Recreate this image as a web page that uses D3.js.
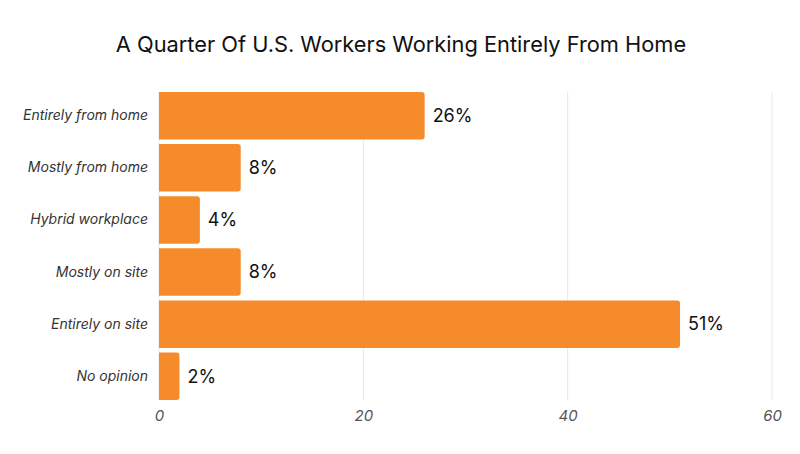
<!DOCTYPE html>
<html>
<head>
<meta charset="utf-8">
<script src="https://cdn.jsdelivr.net/npm/d3@7"></script>
<style>
  body { margin: 0; background: #fff; }
  svg { font-family: Inter, "Noto Sans", sans-serif; }
</style>
</head>
<body>
<div id="chart"></div>
<script>
var categories = ["Entirely from home", "Mostly from home", "Hybrid workplace", "Mostly on site", "Entirely on site", "No opinion"];
var values = [26, 8, 4, 8, 51, 2];
var xTicks = [0, 20, 40, 60];

function init() {
    var w = 800;
    var h = 454;
    var margin = {top: 92, right: 28, bottom: 54, left: 159};

    var svg = d3.select("#chart")
                .append("svg")
                .attr("width", w)
                .attr("height", h);

    svg.append("text")
        .attr("x", 401)
        .attr("y", 52)
        .attr("text-anchor", "middle")
        .attr("font-size", 21.8)
        .attr("fill", "#111")
        .text("A Quarter Of U.S. Workers Working Entirely From Home");

    var x = d3.scaleLinear()
              .domain([0, 60])
              .range([margin.left, w - margin.right]);

    var y = d3.scaleBand()
              .domain(categories)
              .range([margin.top, h - margin.bottom])
              .paddingInner(0.09)
              .paddingOuter(0.0);

    // grid
    svg.append("g")
        .selectAll("line")
        .data(xTicks)
        .enter()
        .append("line")
        .attr("x1", function(d) { return x(d); })
        .attr("x2", function(d) { return x(d); })
        .attr("y1", margin.top)
        .attr("y2", h - margin.bottom)
        .attr("stroke", "#e6e6e6")
        .attr("stroke-width", 1);

    // x axis labels
    var xAxis = d3.axisBottom(x).tickValues(xTicks).tickSize(0).tickPadding(10);
    var gx = svg.append("g")
        .attr("transform", "translate(0," + (h - margin.bottom) + ")")
        .call(xAxis);
    gx.select(".domain").remove();
    gx.selectAll("text")
        .attr("font-family", "Inter, 'Noto Sans', sans-serif")
        .attr("font-size", 15)
        .attr("font-style", "italic")
        .attr("fill", "#555");

    // y axis labels
    var yAxis = d3.axisLeft(y).tickSize(0).tickPadding(11);
    var gy = svg.append("g")
        .attr("transform", "translate(" + margin.left + ",0)")
        .call(yAxis);
    gy.select(".domain").remove();
    gy.selectAll("text")
        .attr("font-family", "Inter, 'Noto Sans', sans-serif")
        .attr("font-size", 14)
        .attr("font-style", "italic")
        .attr("fill", "#333");

    var r = 3;
    var bars = svg.selectAll("g.bar")
        .data(values)
        .enter()
        .append("g")
        .attr("class", "bar");

    bars.append("path")
        .attr("fill", "#f68b2b")
        .attr("d", function(d, i) {
            var x0 = x(0), x1 = x(d), y0 = y(categories[i]), bh = y.bandwidth();
            return "M" + x0 + "," + y0 +
                   "H" + (x1 - r) +
                   "Q" + x1 + "," + y0 + " " + x1 + "," + (y0 + r) +
                   "V" + (y0 + bh - r) +
                   "Q" + x1 + "," + (y0 + bh) + " " + (x1 - r) + "," + (y0 + bh) +
                   "H" + x0 + "Z";
        });

    bars.append("text")
        .attr("x", function(d) { return x(d) + 8; })
        .attr("y", function(d, i) { return y(categories[i]) + y.bandwidth() / 2; })
        .attr("dy", "0.35em")
        .attr("font-size", 18)
        .attr("fill", "#111")
        .text(function(d) { return d + "%"; });
}

window.onload = init;
</script>
</body>
</html>
